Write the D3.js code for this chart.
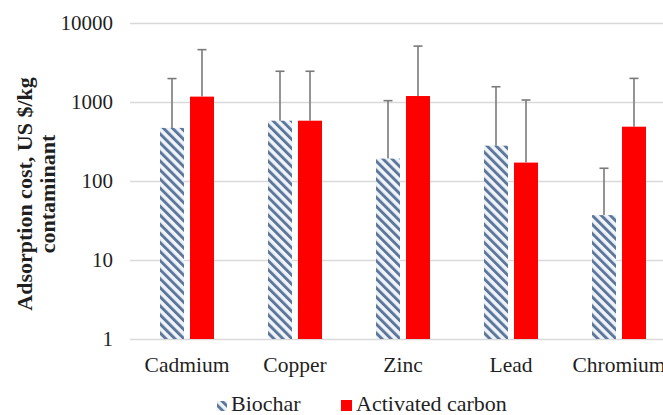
<!DOCTYPE html>
<html>
<head>
<meta charset="utf-8">
<script src="https://cdn.jsdelivr.net/npm/d3@7/dist/d3.min.js"></script>
<style>
  html, body { margin: 0; padding: 0; background: #fff; }
  svg { display: block; }
  text { font-family: "Liberation Serif", "Times New Roman", serif; fill: #1f1f1f; }
</style>
</head>
<body>
<svg id="chart" width="663" height="415"></svg>
<script>
// Heavy-metal adsorption cost, US $/kg contaminant (log scale)
const metals = ["Cadmium", "Copper", "Zinc", "Lead", "Chromium"];
const seriesNames = ["Biochar", "Activated carbon"];
const biocharCost = [470, 580, 192, 280, 37];
const carbonCost = [1170, 580, 1190, 171, 487];
// upper end of each error bar
const biocharUpper = [1980, 2450, 1040, 1560, 145];
const carbonUpper = [4600, 2450, 5100, 1060, 1990];
const yTicks = [1, 10, 100, 1000, 10000];

const svg = d3.select("#chart");
const W = 663, H = 415;
const margin = { left: 133, right: -10, top: 23, bottom: 76 };

const x = d3.scaleBand()
  .domain(metals)
  .range([margin.left, W - margin.right])
  .paddingInner(0.5)
  .paddingOuter(0.25);

const xs = d3.scaleBand()
  .domain(seriesNames)
  .range([0, x.bandwidth()])
  .paddingInner(0.2);

const y = d3.scaleLog()
  .domain([1, 10000])
  .range([H - margin.bottom, margin.top]);

// striped fill for the biochar bars
const defs = svg.append("defs");
const pat = defs.append("pattern")
  .attr("id", "stripes")
  .attr("patternUnits", "userSpaceOnUse")
  .attr("width", 6.4)
  .attr("height", 6.4)
  .attr("patternTransform", "rotate(-45)");
pat.append("rect").attr("width", 6.4).attr("height", 6.4).attr("fill", "#eef4fa");
pat.append("rect").attr("x", 0).attr("width", 2.9).attr("height", 6.4).attr("fill", "#5d7699");

// gridlines
svg.append("g")
  .selectAll("line")
  .data(yTicks)
  .join("line")
  .attr("x1", 130)
  .attr("x2", W)
  .attr("y1", d => Math.round(y(d)) + 0.5)
  .attr("y2", d => Math.round(y(d)) + 0.5)
  .attr("stroke", "#d9d9d9")
  .attr("stroke-width", 1.3);

// y axis labels
const yAxis = d3.axisLeft(y)
  .tickValues(yTicks)
  .tickFormat(d3.format("d"))
  .tickSize(0)
  .tickPadding(0);
const gy = svg.append("g")
  .attr("transform", "translate(113,0)")
  .call(yAxis);
gy.select(".domain").remove();
gy.selectAll("text")
  .attr("font-size", 21)
  .attr("font-family", "Liberation Serif, serif")
  .attr("fill", "#1f1f1f");

// bars
const rows = metals.map((m, i) => ({
  metal: m,
  vals: [
    { s: seriesNames[0], v: biocharCost[i], hi: biocharUpper[i] },
    { s: seriesNames[1], v: carbonCost[i], hi: carbonUpper[i] }
  ]
}));

const groups = svg.append("g")
  .selectAll("g")
  .data(rows)
  .join("g")
  .attr("transform", d => `translate(${x(d.metal)},0)`);

groups.selectAll("rect")
  .data(d => d.vals)
  .join("rect")
  .attr("x", d => xs(d.s))
  .attr("width", xs.bandwidth())
  .attr("y", d => y(d.v))
  .attr("height", d => y(1) - y(d.v))
  .attr("fill", d => d.s === "Biochar" ? "url(#stripes)" : "#ff0000");

// error bars (upper only)
const err = groups.selectAll("g.err")
  .data(d => d.vals)
  .join("g")
  .attr("class", "err")
  .attr("stroke", "#7a7a7a")
  .attr("stroke-width", 1.6);
err.append("line")
  .attr("x1", d => xs(d.s) + xs.bandwidth() / 2)
  .attr("x2", d => xs(d.s) + xs.bandwidth() / 2)
  .attr("y1", d => y(d.v))
  .attr("y2", d => y(d.hi));
err.append("line")
  .attr("x1", d => xs(d.s) + xs.bandwidth() / 2 - 4.5)
  .attr("x2", d => xs(d.s) + xs.bandwidth() / 2 + 4.5)
  .attr("y1", d => y(d.hi))
  .attr("y2", d => y(d.hi));

// category labels
const xAxis = d3.axisBottom(x).tickSize(0).tickPadding(0);
const gx = svg.append("g")
  .attr("transform", `translate(0,${y(1)})`)
  .call(xAxis);
gx.select(".domain").remove();
gx.selectAll("text")
  .attr("dy", null)
  .attr("y", 33)
  .attr("font-size", 21.5)
  .attr("font-family", "Liberation Serif, serif")
  .attr("fill", "#1f1f1f");

// y axis title
const title = svg.append("text")
  .attr("transform", "translate(0,194) rotate(-90)")
  .attr("text-anchor", "middle")
  .attr("font-weight", "bold")
  .attr("font-size", 22);
title.append("tspan").attr("x", 0).attr("y", 32).text("Adsorption cost, US $/kg");
title.append("tspan").attr("x", 0).attr("y", 55).text("contaminant");

// legend
const legend = svg.append("g");
legend.append("rect")
  .attr("x", 217).attr("y", 401).attr("width", 10).attr("height", 10)
  .attr("fill", "url(#stripes)");
legend.append("text")
  .attr("x", 231).attr("y", 411)
  .attr("font-size", 22)
  .text(seriesNames[0]);
legend.append("rect")
  .attr("x", 341).attr("y", 400).attr("width", 11).attr("height", 11)
  .attr("fill", "#ff0000");
legend.append("text")
  .attr("x", 356).attr("y", 411)
  .attr("font-size", 22)
  .text(seriesNames[1]);
</script>
</body>
</html>
